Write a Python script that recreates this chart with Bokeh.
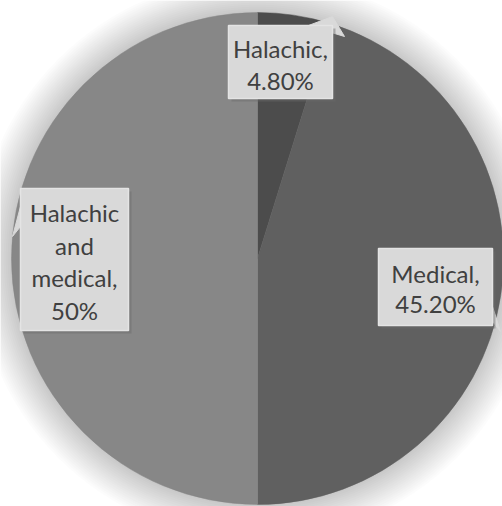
import math
from bokeh.plotting import figure
from bokeh.models import Range1d, ColumnDataSource
from bokeh.core.properties import value
from bokeh.embed import file_html
from bokeh.resources import INLINE

# ---- data ----
categories = ["Halachic", "Medical", "Halachic and medical"]
values = [4.8, 45.2, 50.0]
value_labels = ["4.80%", "45.20%", "50%"]
label_lines = [["Halachic,", "4.80%"], ["Medical,", "45.20%"], ["Halachic", "and", "medical,", "50%"]]
colors = ["#4c4c4c", "#606060", "#878787"]

W, H = 502, 506
p = figure(width=W, height=H, output_backend="svg", toolbar_location=None,
           x_range=Range1d(0, W), y_range=Range1d(0, H), min_border=0)
p.axis.visible = False
p.grid.visible = False
p.outline_line_color = None
p.background_fill_color = "white"
p.border_fill_color = "white"

# page (px, py) -> data (px, H - py)
cx, cy, r = 257, H - 258, 246

# soft glow around the pie
for i in range(18):
    p.circle(x=[cx], y=[cy], radius=r + 2 * (18 - i), fill_color="black",
             fill_alpha=0.012, line_color=None)

# wedges: start at top, go clockwise
total = sum(values)
starts, ends = [], []
a = 90.0
for v in values:
    b = a - v / total * 360.0
    starts.append(math.radians(b))
    ends.append(math.radians(a))
    a = b
src = ColumnDataSource(dict(start=starts, end=ends, color=colors, cat=categories))
p.wedge(x=cx, y=cy, radius=r, start_angle="start", end_angle="end",
        fill_color="color", line_color="color", line_width=0.5, source=src)

# label boxes in page coords (left, right, top, bottom) and text positions
boxes = [(228, 332, 25, 98), (378, 492, 248, 325), (20, 128, 188, 330)]
text_x = [280, 435, 74]
text_y0 = [48, 273, 212]
line_h = [32, 30, 32.5]

# callout pointers (page coords)
ptrs = [([308, 332, 344], [25, 16, 36]),
        ([492, 492, 500], [306, 321, 331]),
        ([20, 12, 20], [206, 236, 226])]
for xs, ys in ptrs:
    p.patch(x=xs, y=[H - y for y in ys], fill_color="#d9d9d9", line_color="#d9d9d9")

for (l, rr, t, b) in boxes:
    p.quad(left=[l + 3], right=[rr + 3], top=[H - t - 3], bottom=[H - b - 3],
           fill_color="#6a6a6a", fill_alpha=0.45, line_color=None)
    p.quad(left=[l], right=[rr], top=[H - t], bottom=[H - b],
           fill_color="#d9d9d9", line_color="#e4e4e4", line_width=1.5)

for i, lines in enumerate(label_lines):
    xs = [text_x[i]] * len(lines)
    ys = [H - (text_y0[i] + k * line_h[i]) for k in range(len(lines))]
    p.text(x=xs, y=ys, text=lines, text_align="center", text_baseline="middle",
           text_font=value("Lato"), text_font_size="24px", text_color="#404040")

open("out.html", "w").write(file_html(p, INLINE))
